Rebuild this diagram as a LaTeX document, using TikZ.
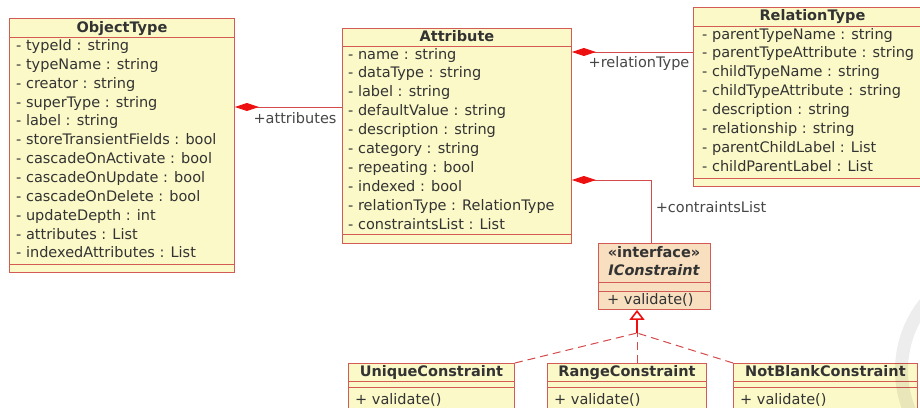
\documentclass[tikz,border=0pt]{standalone}
\usepackage{fontspec}
\setmainfont{DejaVu Sans}
\usetikzlibrary{arrows.meta}
\definecolor{boxfill}{HTML}{FBF9C8}
\definecolor{ifacefill}{HTML}{F7DFC0}
\definecolor{boxline}{HTML}{D45A55}
\definecolor{linkred}{HTML}{D44A4A}
\definecolor{diamondred}{HTML}{EE1010}
\definecolor{txt}{HTML}{333333}

\begin{document}
\begin{tikzpicture}[x=1pt,y=-1pt,
  font=\fontsize{14.5}{17}\selectfont,
  classbox/.style={draw=boxline, line width=0.9pt, fill=boxfill, rectangle,
    inner sep=0, anchor=north west},
  ifacebox/.style={classbox, fill=ifacefill},
  sep/.style={draw=boxline, line width=0.9pt},
  title/.style={font=\fontsize{14.5}{17}\selectfont\bfseries, text=txt,
    inner sep=0, text height=11, text depth=3},
  row/.style={text=txt, inner sep=0, anchor=west, text height=11, text depth=3},
  lbl/.style={text=txt!90, inner sep=0, text height=11, text depth=3},
  comp/.style={draw=linkred, line width=0.9pt,
    {Diamond[length=24pt,width=8pt,fill=diamondred,color=diamondred]}-},
  realize/.style={draw=linkred, line width=1pt, dash pattern=on 8pt off 5pt},
  gen/.style={draw=diamondred, line width=1.6pt,
    -{Triangle[open, length=10pt, width=15pt]}},
]
\path[use as bounding box, clip] (0,0) rectangle (920,407);
\fill[white] (0,0) rectangle (920,407);

% ---- ObjectType ----
\node[classbox, minimum width=225, minimum height=254] (objtype) at (9,18) {};
\node[title] (objtypeT) at ([yshift=-10pt]objtype.north) {ObjectType};
\draw[sep] (objtype.west |- 0,37) -- (objtype.east |- 0,37);
\draw[sep] (objtype.west |- 0,264) -- (objtype.east |- 0,264);
\foreach [count=\i] \t in {- typeId : string, - typeName : string, - creator : string,
  - superType : string, - label : string, - storeTransientFields : bool,
  - cascadeOnActivate : bool, - cascadeOnUpdate : bool, - cascadeOnDelete : bool,
  - updateDepth : int, - attributes : List, - indexedAttributes : List}
  \node[row] (ot\i) at (16,{46.5+18.85*(\i-1)}) {\t};

% ---- Attribute ----
\node[classbox, minimum width=229, minimum height=215] (attr) at (342,28) {};
\node[title] (attrT) at ([yshift=-9pt]attr.north) {Attribute};
\draw[sep] (attr.west |- 0,46) -- (attr.east |- 0,46);
\draw[sep] (attr.west |- 0,234) -- (attr.east |- 0,234);
\foreach [count=\i] \t in {- name : string, - dataType : string, - label : string,
  - defaultValue : string, - description : string, - category : string,
  - repeating : bool, - indexed : bool, - relationType : RelationType,
  - constraintsList : List}
  \node[row] (at\i) at (348,{55+18.9*(\i-1)}) {\t};

% ---- RelationType ----
\node[classbox, minimum width=238, minimum height=179] (rel) at (693,7) {};
\node[title] (relT) at ([yshift=-9.5pt]rel.north) {RelationType};
\draw[sep] (rel.west |- 0,26) -- (rel.east |- 0,26);
\draw[sep] (rel.west |- 0,178) -- (rel.east |- 0,178);
\foreach [count=\i] \t in {- parentTypeName : string, - parentTypeAttribute : string,
  - childTypeName : string, - childTypeAttribute : string, - description : string,
  - relationship : string, - parentChildLabel : List, - childParentLabel : List}
  \node[row] (rt\i) at (702,{35+18.9*(\i-1)}) {\t};

% ---- IConstraint interface ----
\node[ifacebox, minimum width=112, minimum height=66] (iface) at (598,243) {};
\node[title] (ifaceS) at (654,253) {«interface»};
\node[title, font=\fontsize{14.5}{17}\selectfont\bfseries\itshape] (ifaceT) at (654,271) {IConstraint};
\draw[sep] (iface.west |- 0,282) -- (iface.east |- 0,282);
\draw[sep] (iface.west |- 0,291) -- (iface.east |- 0,291);
\node[row] (ifaceM) at (607,300) {+ validate()};

% ---- implementing classes ----
\node[classbox, minimum width=166, minimum height=60] (uniq) at (348,363) {};
\node[title] (uniqT) at ([yshift=-9pt]uniq.north) {UniqueConstraint};
\node[row] (uniqM) at (355,400) {+ validate()};

\node[classbox, minimum width=159, minimum height=60] (range) at (547,363) {};
\node[title] (rangeT) at ([yshift=-9pt]range.north) {RangeConstraint};
\node[row] (rangeM) at (554,400) {+ validate()};

\node[classbox, minimum width=184, minimum height=60] (nblank) at (733,363) {};
\node[title] (nblankT) at ([yshift=-9pt]nblank.north) {NotBlankConstraint};
\node[row] (nblankM) at (740,400) {+ validate()};

\foreach \b in {uniq, range, nblank} {
  \draw[sep] (\b.west |- 0,381) -- (\b.east |- 0,381);
  \draw[sep] (\b.west |- 0,387) -- (\b.east |- 0,387);
}

% ---- compositions ----
\draw[comp] (objtype.east |- 0,107) -- (attr.west |- 0,107);
\node[lbl] (lblAttr) at (295,119) {+attributes};

\draw[comp] (attr.east |- 0,52) -- (rel.west |- 0,52);
\node[lbl] (lblRel) at (639,63) {+relationType};

\draw[comp] (attr.east |- 0,180) -| ([xshift=-3pt]iface.north);
\node[lbl] (lblCons) at (711,208) {+contraintsList};

% ---- realizations ----
\coordinate (junc) at (637,333);
\draw[realize] (uniq.north east) -- (junc);
\draw[realize] (range.north -| junc) -- (junc);
\draw[realize] (nblank.north west) -- (junc);
\draw[gen] (junc) -- (junc |- iface.south);

% ---- faint mark in the corner ----
\draw[black, opacity=0.07, line width=13pt] (1008,370) circle[radius=106.5pt];
\end{tikzpicture}
\end{document}
